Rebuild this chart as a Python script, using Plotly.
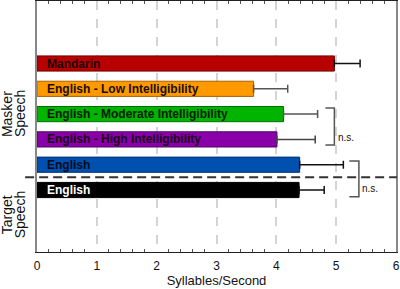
import plotly.graph_objects as go

# Data (top to bottom)
labels = ["Mandarin", "English - Low Intelligibility", "English - Moderate Intelligibility",
          "English - High Intelligibility", "English", "English"]
values = [4.97, 3.62, 4.12, 4.01, 4.39, 4.38]
errors = [0.43, 0.57, 0.57, 0.64, 0.73, 0.42]
colors = ["#B80000", "#FF9900", "#00B400", "#8A00A8", "#0050B0", "#000000"]
edge_colors = ["#700000", "#A86000", "#007000", "#50006A", "#003070", "#000000"]
err_colors = ["#111111", "#555555", "#555555", "#444444", "#111111", "#111111"]
text_colors = ["#1a0000", "#1a0d00", "#001a00", "#1a001a", "#000a1a", "#ffffff"]
group_lines = [["Masker", "Speech"], ["Target", "Speech"]]
group_centers = [3.0, -1.0]
ns_text = "n.s."

n = len(labels)
positions = [n - 1 - i for i in range(n)]

FONT = "Liberation Sans, Arial, sans-serif"

fig = go.Figure()
for i in range(n):
    fig.add_trace(go.Bar(
        x=[values[i]], y=[positions[i]], orientation="h", width=0.6,
        marker=dict(color=colors[i], line=dict(color=edge_colors[i], width=1)),
        error_x=dict(type="data", array=[errors[i]], color=err_colors[i],
                     thickness=1.5, width=4, symmetric=False, arrayminus=[0]),
        showlegend=False, hoverinfo="skip",
    ))
    fig.add_annotation(x=0, y=positions[i], xref="x", yref="y", text="<b>%s</b>" % labels[i],
                       showarrow=False, xanchor="left", xshift=8,
                       font=dict(family=FONT, size=12, color=text_colors[i]))

# separator between masker and target
fig.add_shape(type="line", xref="paper", yref="y", x0=-0.033, x1=1.003, y0=0.5, y1=0.5,
              line=dict(color="#333333", width=2, dash="9px,5px"))

# brackets
def bracket(x0, x1, y0, y1):
    fig.add_shape(type="path", xref="x", yref="y",
                  path=f"M {x0} {y0} L {x1} {y0} L {x1} {y1} L {x0} {y1}",
                  line=dict(color="#555555", width=1.5))

bracket(4.82, 4.97, 3.24, 1.78)
bracket(5.22, 5.38, 1.15, -0.27)
fig.add_annotation(x=5.0, y=2.09, xref="x", yref="y", text=ns_text, showarrow=False,
                   xanchor="left", font=dict(family=FONT, size=10, color="#111111"))
fig.add_annotation(x=5.39, y=0.07, xref="x", yref="y", text=ns_text, showarrow=False,
                   xanchor="left", font=dict(family=FONT, size=10, color="#111111"))

# group labels (two rotated lines each)
for lines, yc in zip(group_lines, group_centers):
    for j, line in enumerate(lines):
        fig.add_annotation(x=0, y=yc, xref="paper", yref="y", text=line, showarrow=False,
                           textangle=-90, xanchor="center", yanchor="middle",
                           xshift=-30 + 13 * j,
                           font=dict(family=FONT, size=14, color="#111111"))

fig.update_layout(
    width=400, height=289,
    margin=dict(l=37, r=4, t=1, b=37, autoexpand=False),
    paper_bgcolor="white", plot_bgcolor="white",
    font=dict(family=FONT, size=12, color="#111111"),
    xaxis=dict(range=[0, 6], dtick=1, tick0=0, showgrid=True, gridcolor="#d4d4d4",
               griddash="dash", gridwidth=1.5, zeroline=False, automargin=False,
               ticks="inside", ticklen=1, tickcolor="rgba(0,0,0,0)", ticklabelstandoff=3,
               showline=True, linecolor="#222222", linewidth=1, mirror="allticks",
               minor=dict(ticks="inside", dtick=0.2, ticklen=3, tickcolor="#555555",
                          tickwidth=1, showgrid=False),
               tickfont=dict(family=FONT, size=12, color="#111111"),
               title=dict(text="Syllables/Second", font=dict(family=FONT, size=13, color="#111111"),
                          standoff=3)),
    yaxis=dict(range=[-2.45, 7.47], showticklabels=False, showgrid=False, zeroline=False,
               automargin=False,
               ticks="", showline=True, linecolor="#888888", linewidth=2, mirror=True),
)

fig.write_html("out.html", config={"displayModeBar": False},
               post_script="document.body.style.margin='0';document.body.style.padding='0';")
